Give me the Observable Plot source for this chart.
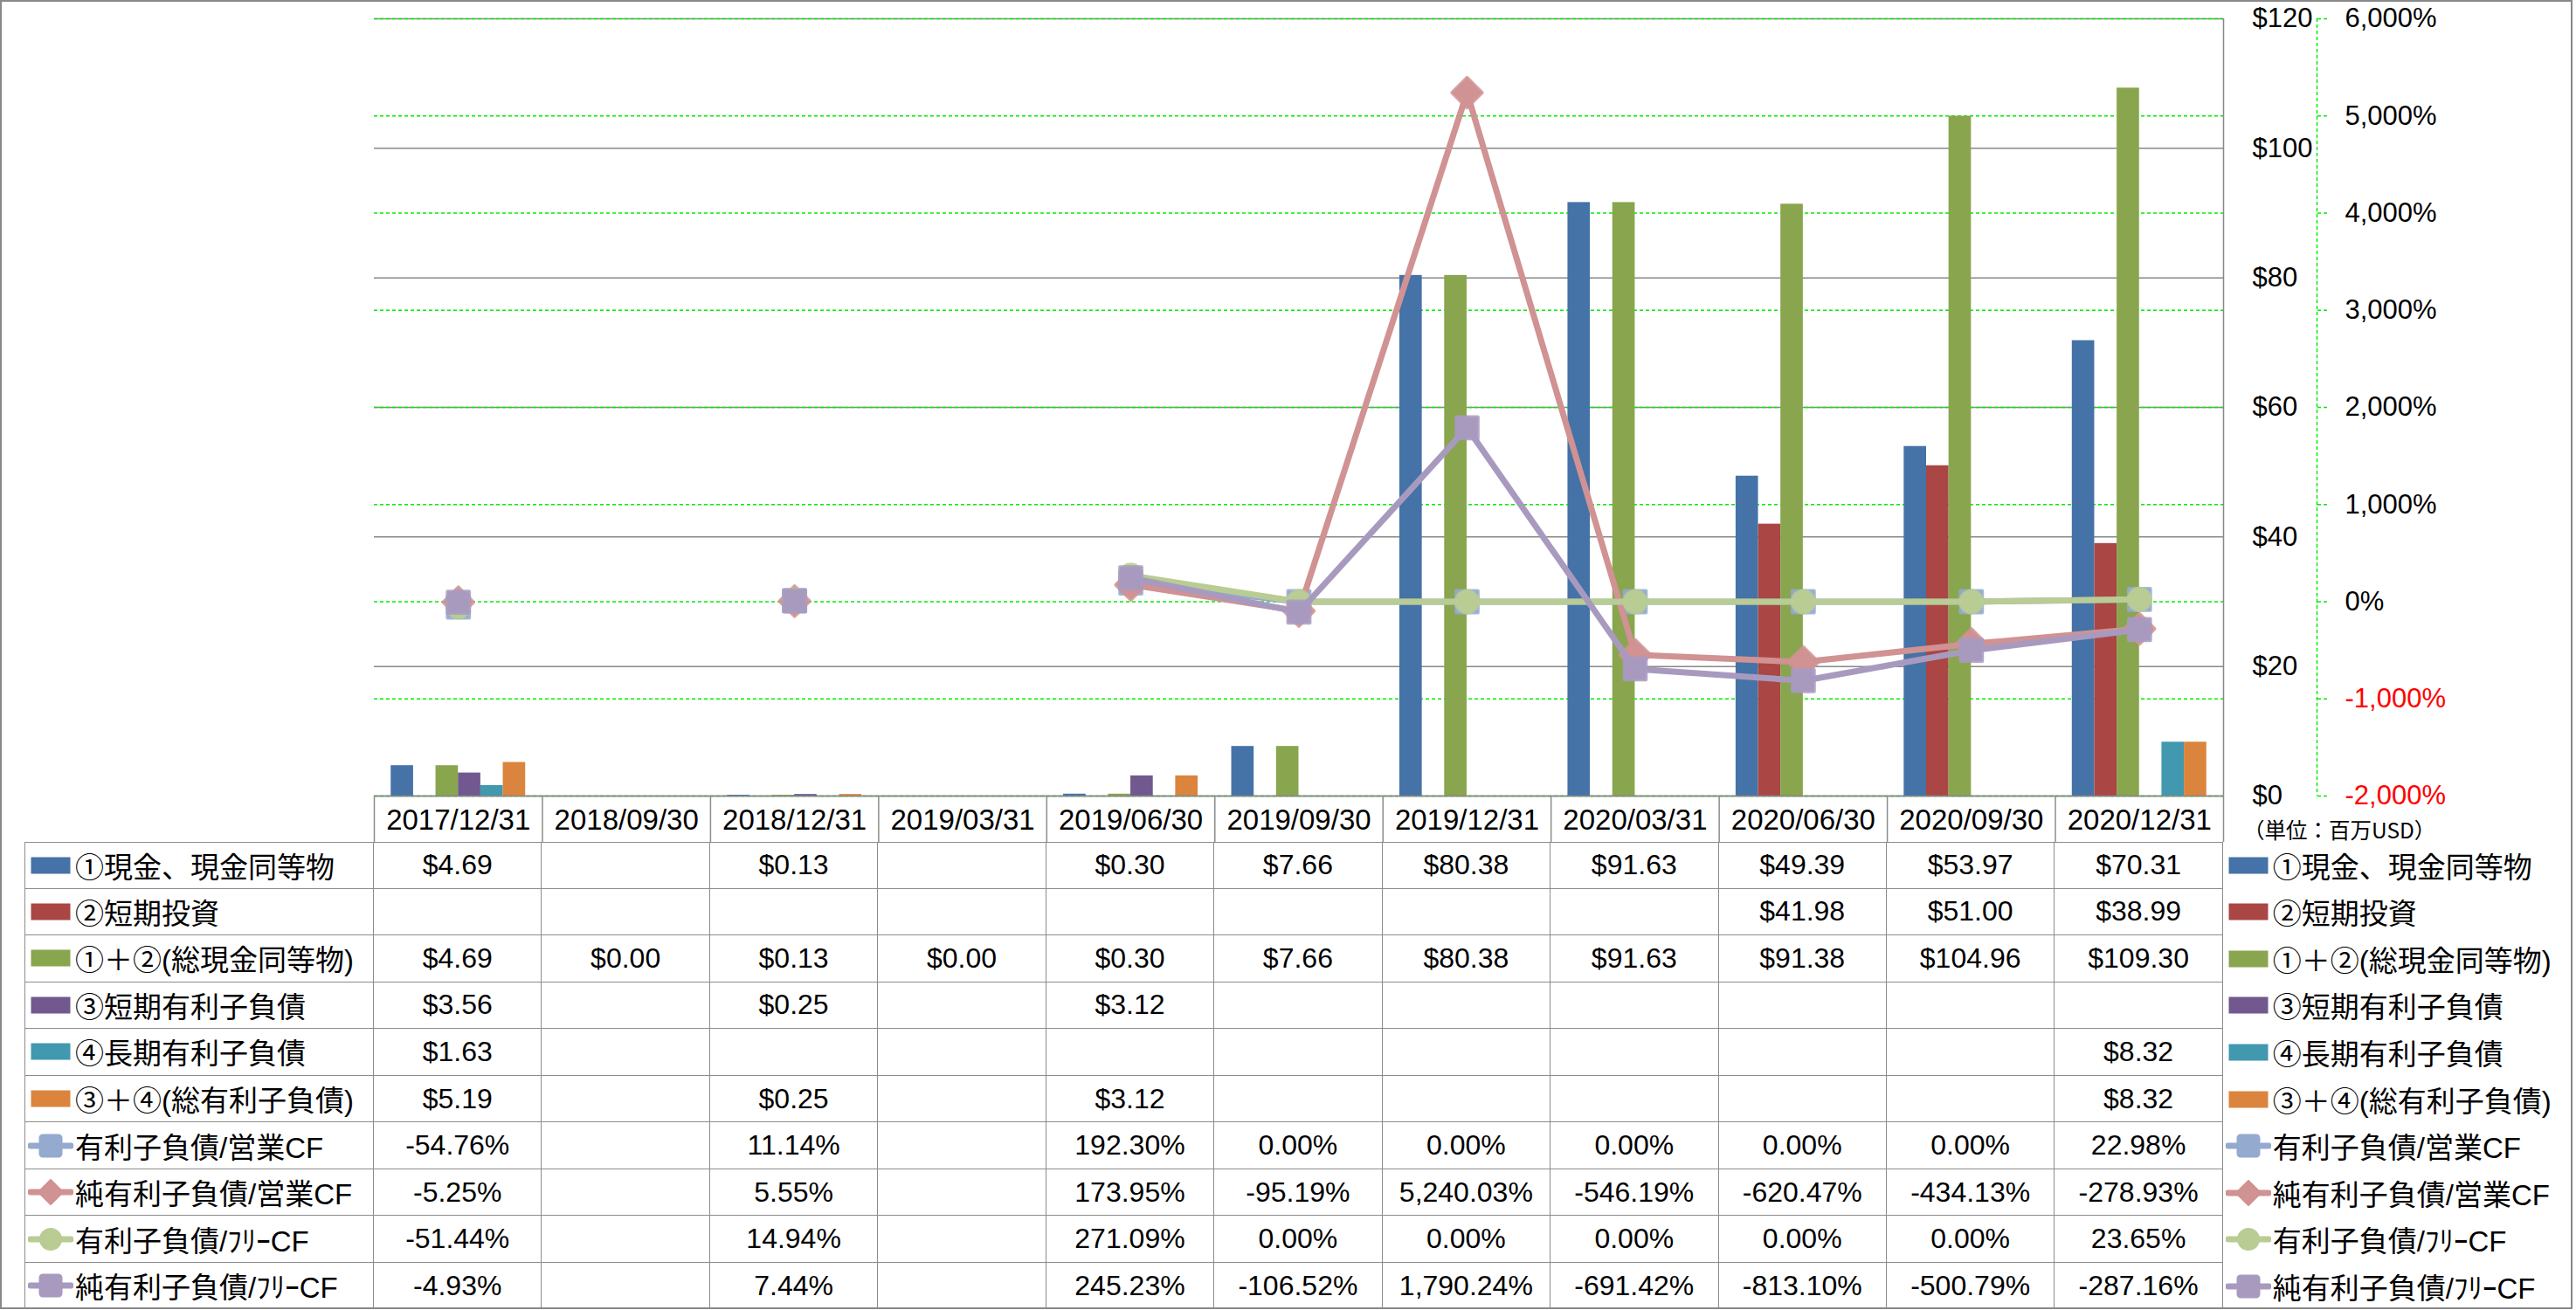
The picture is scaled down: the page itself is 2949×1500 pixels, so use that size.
<!DOCTYPE html>
<html>
<head>
<meta charset="utf-8">
<script src="https://cdn.jsdelivr.net/npm/d3@7"></script>
<script src="https://cdn.jsdelivr.net/npm/@observablehq/plot@0.6"></script>
<style>
html, body { margin: 0; padding: 0; background: #fff; }
#wrap { position: relative; width: 2949px; height: 1500px; overflow: hidden; background: #fff;
  font-family: "Liberation Sans", "Noto Sans CJK JP", sans-serif; color: #000; }
#chart { position: absolute; left: 0; top: 0; }
#chart svg { display: block; }
#frame { position: absolute; left: 0; top: 0; width: 2945px; height: 1499px; box-sizing: border-box;
  border: 2px solid #888; pointer-events: none; }
#table { position: absolute; left: 28px; top: 964px; display: grid;
  grid-template-columns: 400px repeat(11, 192.45px) 397px; grid-auto-rows: 53.55px; }
.c { box-sizing: border-box; border-right: 1.5px solid #8c8c8c; border-bottom: 1.5px solid #8c8c8c;
  display: flex; align-items: center; justify-content: center; font-size: 32px; white-space: nowrap; }
.lab { border-left: 1.5px solid #8c8c8c; justify-content: flex-start; padding-left: 3px; font-size: 33px; }
.first { border-top: 1.5px solid #8c8c8c; }
.rl { display: flex; align-items: center; padding-left: 3px; font-size: 33px; white-space: nowrap; }
.sw { width: 52px; height: 30px; flex: none; margin-right: 2px; display: block; }
#unit { position: absolute; left: 2568px; top: 934px; font-size: 24.5px; line-height: 32px;
  font-family: "Noto Sans CJK JP", sans-serif; white-space: nowrap; }
</style>
</head>
<body>
<div id="wrap">
  <div id="chart"></div>
  <div id="unit">（単位：百万USD）</div>
  <div id="table"></div>
  <div id="frame"></div>
</div>
<script>
// ---------------- data ----------------
const categories = ["2017/12/31","2018/09/30","2018/12/31","2019/03/31","2019/06/30","2019/09/30","2019/12/31","2020/03/31","2020/06/30","2020/09/30","2020/12/31"];

const cashEquivalents = [4.69, null, 0.13, null, 0.30, 7.66, 80.38, 91.63, 49.39, 53.97, 70.31];
const shortInvestments = [null, null, null, null, null, null, null, null, 41.98, 51.00, 38.99];
const totalCash = [4.69, 0.00, 0.13, 0.00, 0.30, 7.66, 80.38, 91.63, 91.38, 104.96, 109.30];
const shortDebt = [3.56, null, 0.25, null, 3.12, null, null, null, null, null, null];
const longDebt = [1.63, null, null, null, null, null, null, null, null, null, 8.32];
const totalDebt = [5.19, null, 0.25, null, 3.12, null, null, null, null, null, 8.32];

const debtToOpCF = [-54.76, null, 11.14, null, 192.30, 0.00, 0.00, 0.00, 0.00, 0.00, 22.98];
const netDebtToOpCF = [-5.25, null, 5.55, null, 173.95, -95.19, 5240.03, -546.19, -620.47, -434.13, -278.93];
const debtToFCF = [-51.44, null, 14.94, null, 271.09, 0.00, 0.00, 0.00, 0.00, 0.00, 23.65];
const netDebtToFCF = [-4.93, null, 7.44, null, 245.23, -106.52, 1790.24, -691.42, -813.10, -500.79, -287.16];

const usdTicks = [0, 20, 40, 60, 80, 100, 120];
const pctTicks = [-2000, -1000, 0, 1000, 2000, 3000, 4000, 5000, 6000];

const barNames = ["①現金、現金同等物", "②短期投資", "①＋②(総現金同等物)", "③短期有利子負債", "④長期有利子負債", "③＋④(総有利子負債)"];
const lineNames = ["有利子負債/営業CF", "純有利子負債/営業CF", "有利子負債/ﾌﾘｰCF", "純有利子負債/ﾌﾘｰCF"];

// ---------------- styles ----------------
const barColors = ["#4572A7", "#AA4643", "#89A54E", "#71588F", "#4198AF", "#DB843D"];
const lineColors = ["#94AACF", "#D09292", "#B8CC94", "#A89ABF"];
const lineSymbols = ["square", "diamond2", "circle", "square"];
const lineR = [14, 15.5, 12.5, 14];
const gridGray = "#888";
const green = "#00EE00";

const barSeries = [cashEquivalents, shortInvestments, totalCash, shortDebt, longDebt, totalDebt]
  .map((values, k) => ({name: barNames[k], values, color: barColors[k], kind: "bar"}));
const lineSeries = [debtToOpCF, netDebtToOpCF, debtToFCF, netDebtToFCF]
  .map((values, k) => ({name: lineNames[k], values, color: lineColors[k], symbol: lineSymbols[k], r: lineR[k], kind: "line"}));

// percent axis shares the frame with the dollar axis
const usdDomain = [0, 120], pctDomain = [-2000, 6000];
const toY = v => v == null ? undefined :
  usdDomain[0] + (v - pctDomain[0]) / (pctDomain[1] - pctDomain[0]) * (usdDomain[1] - usdDomain[0]);
const fromY = y => Math.round(pctDomain[0] + (y - usdDomain[0]) / (usdDomain[1] - usdDomain[0]) * (pctDomain[1] - pctDomain[0]));
const fmtPctAxis = v => (v < 0 ? "-" : "") + d3.format(",")(Math.abs(v)) + "%";

const n = categories.length;
const groupWidth = 0.8;
const bw = groupWidth / barSeries.length;
const barData = [];
barSeries.forEach((s, k) => s.values.forEach((v, i) => { if (v != null) barData.push({i, k, v, name: s.name}); }));

const marks = [
  Plot.gridY(usdTicks, {stroke: gridGray, strokeOpacity: 1, strokeWidth: 1.5}),
  Plot.gridY(pctTicks.map(toY), {stroke: green, strokeOpacity: 1, strokeWidth: 1.5, strokeDasharray: "4,3"}),
  Plot.rect(barData, {
    x1: d => d.i - groupWidth / 2 + d.k * bw,
    x2: d => d.i - groupWidth / 2 + (d.k + 1) * bw,
    y1: 0, y2: "v", fill: "name", inset: 0
  }),
  Plot.ruleY([0], {stroke: gridGray, strokeWidth: 1.5}),
  Plot.ruleX([n - 0.5], {stroke: gridGray, strokeWidth: 1.5}),
  // header row of the data table = category axis
  Plot.axisX(d3.range(n + 1).map(i => i - 0.5), {anchor: "bottom", tickSize: 53, tickFormat: () => "", stroke: "#8c8c8c", strokeWidth: 1.5, label: null}),
  Plot.axisX(d3.range(n), {anchor: "bottom", tickSize: 0, tickPadding: 15, tickFormat: i => categories[i], fontSize: 33, fill: "#000", label: null}),
  // dollar axis
  Plot.axisY(usdTicks, {anchor: "right", tickSize: 0, tickPadding: 33, tickFormat: d => "$" + d, fontSize: 31, fill: "#000", label: null}),
  // percent axis
  Plot.ruleX([n - 0.5], {dx: 107, stroke: green, strokeWidth: 1.5, strokeDasharray: "4,3"}),
  Plot.axisY(pctTicks.filter(v => v >= 0).map(toY), {anchor: "right", dx: 107, tickSize: 11, tickPadding: 21, stroke: green, strokeWidth: 1.5, strokeDasharray: "4,3", tickFormat: y => fmtPctAxis(fromY(y)), fontSize: 31, fill: "#000", label: null}),
  Plot.axisY(pctTicks.filter(v => v < 0).map(toY), {anchor: "right", dx: 107, tickSize: 11, tickPadding: 21, stroke: green, strokeWidth: 1.5, strokeDasharray: "4,3", tickFormat: y => fmtPctAxis(fromY(y)), fontSize: 31, fill: "#FF0000", label: null})
];

lineSeries.forEach(s => {
  const data = s.values.map((v, i) => ({i, y: toY(v)}));
  marks.push(Plot.line(data, {x: "i", y: "y", stroke: s.color, strokeWidth: 7, strokeLinejoin: "round", strokeLinecap: "round"}));
  marks.push(Plot.dot(data.filter(d => d.y !== undefined), {x: "i", y: "y", symbol: s.symbol, r: s.r, fill: s.color, stroke: s.color, strokeOpacity: 0.85, strokeWidth: 4, strokeLinejoin: "round"}));
});

const chart = Plot.plot({
  width: 2949,
  height: 964,
  marginLeft: 428,
  marginRight: 404,
  marginTop: 21,
  marginBottom: 53,
  style: {fontFamily: "Liberation Sans, Noto Sans CJK JP, sans-serif", fontSize: "31px", color: "#000", background: "transparent", overflow: "visible"},
  x: {domain: [-0.5, n - 0.5], axis: null, label: null},
  y: {domain: usdDomain, axis: null, label: null},
  color: {domain: barNames, range: barColors},
  marks
});
document.getElementById("chart").appendChild(chart);

// ---------------- data table ----------------
function swatch(s) {
  if (s.kind === "bar") {
    return `<svg class="sw" viewBox="0 0 52 30"><rect x="3.5" y="5.5" width="45" height="19" fill="${s.color}"/></svg>`;
  }
  let m;
  if (s.symbol === "circle") m = `<circle cx="26" cy="15" r="12" fill="${s.color}" stroke="${s.color}" stroke-width="2"/>`;
  else if (s.symbol === "diamond2") m = `<path d="M26 1 L40 15 L26 29 L12 15 Z" fill="${s.color}" stroke="${s.color}" stroke-width="2" stroke-linejoin="round"/>`;
  else m = `<rect x="14" y="3" width="24" height="24" rx="3" fill="${s.color}" stroke="${s.color}" stroke-width="3" stroke-linejoin="round"/>`;
  return `<svg class="sw" viewBox="0 0 52 30"><line x1="3" y1="15" x2="49" y2="15" stroke="${s.color}" stroke-width="7" stroke-linecap="round"/>${m}</svg>`;
}
const fmtUsd = v => v == null ? "" : "$" + v.toFixed(2);
const fmtPct = v => v == null ? "" : (v < 0 ? "-" : "") + d3.format(",.2f")(Math.abs(v)) + "%";

const table = document.getElementById("table");
let html = "";
[...barSeries, ...lineSeries].forEach((s, r) => {
  const first = r === 0 ? " first" : "";
  html += `<div class="c lab${first}">${swatch(s)}<span>${s.name}</span></div>`;
  s.values.forEach(v => {
    html += `<div class="c${first}">${s.kind === "bar" ? fmtUsd(v) : fmtPct(v)}</div>`;
  });
  html += `<div class="rl">${swatch(s)}<span>${s.name}</span></div>`;
});
table.innerHTML = html;
</script>
</body>
</html>
